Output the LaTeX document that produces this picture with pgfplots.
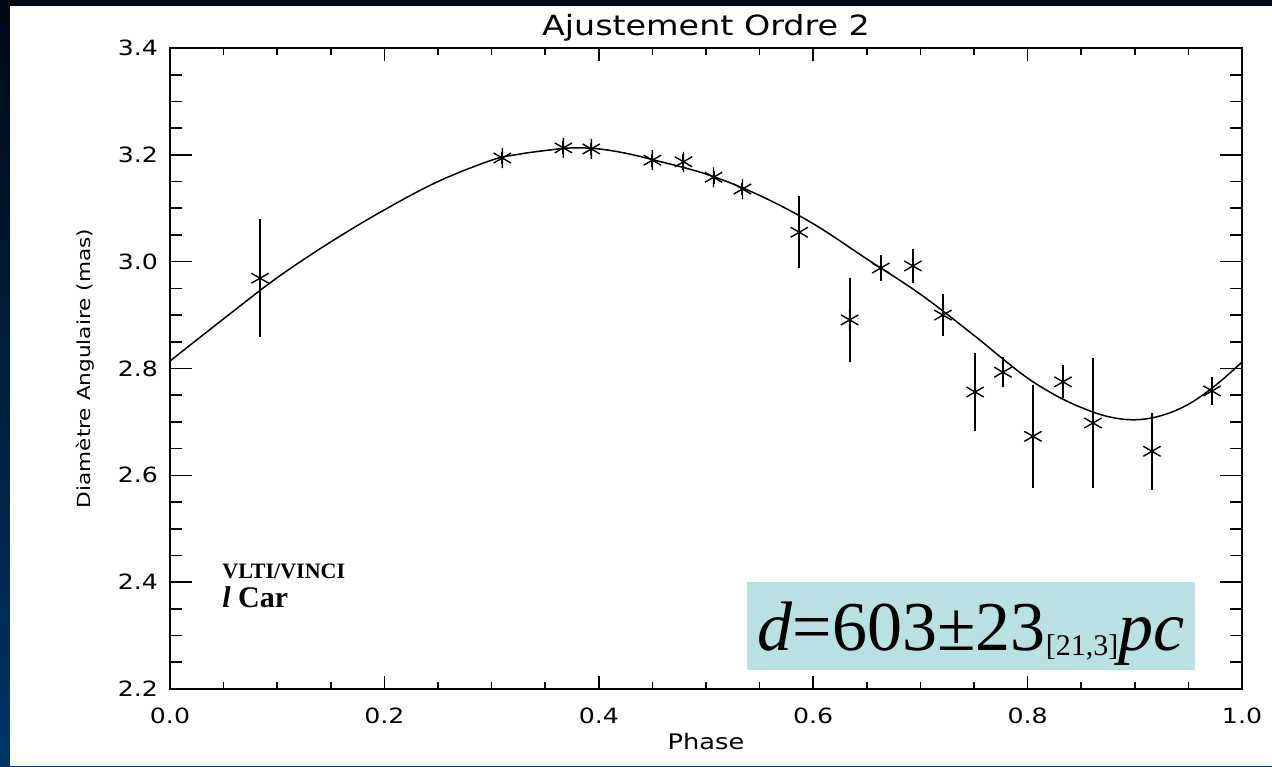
\documentclass[border=0pt]{standalone}
\usepackage{graphicx}
\usepackage{pgfplots}
\usepackage{pgfplotstable}
\pgfplotsset{compat=1.18}
\usepackage{fontspec}
\setmainfont{DejaVu Sans}
\newfontfamily\tnr{Liberation Serif}
\definecolor{bgtop}{RGB}{0,10,22}
\definecolor{bgbot}{RGB}{0,52,104}
\definecolor{boxcol}{RGB}{185,224,227}
\newcommand\idlfont{\fontsize{10.5}{12}\selectfont}

\pgfplotstableread{
x y e
0.084 2.969 0.110
0.310 3.194 0.012
0.367 3.213 0.012
0.393 3.211 0.012
0.450 3.190 0.012
0.479 3.187 0.015
0.507 3.158 0.012
0.534 3.136 0.012
0.587 3.055 0.067
0.634 2.891 0.079
0.663 2.988 0.025
0.693 2.992 0.032
0.721 2.900 0.040
0.751 2.756 0.073
0.777 2.793 0.028
0.805 2.673 0.096
0.833 2.775 0.031
0.861 2.698 0.122
0.916 2.645 0.072
0.972 2.758 0.026
}\obs

\pgfplotstableread{
x y
0.000 2.814
0.050 2.893
0.100 2.970
0.150 3.037
0.200 3.097
0.250 3.150
0.300 3.190
0.325 3.201
0.350 3.208
0.375 3.213
0.400 3.211
0.425 3.203
0.450 3.191
0.500 3.164
0.550 3.124
0.600 3.071
0.650 3.005
0.700 2.939
0.750 2.862
0.775 2.821
0.800 2.782
0.825 2.751
0.850 2.727
0.875 2.710
0.900 2.704
0.925 2.712
0.950 2.733
0.975 2.768
1.000 2.812
}\fit

\pgfplotsset{idl/.style={
  scale only axis, width=536pt, height=320.5pt,
  at={(85pt,38.5pt)}, anchor=south west,
  xmin=0, xmax=1, ymin=2.2, ymax=3.4,
  tick align=inside,
  axis line style={line width=0.8pt},
  every tick/.style={black, line width=0.8pt},
  ticklabel style={font=\idlfont},
  /pgf/number format/.cd, fixed, fixed zerofill, precision=1, assume math mode=true,
}}

\begin{document}
\begin{tikzpicture}[x=1pt,y=1pt]
\useasboundingbox (0,0) rectangle (636,383);
\shade[top color=bgtop, bottom color=bgbot] (0,0) rectangle (636,383);
\fill[white] (5,0) rectangle (636,380);

% y ticks (longer, as IDL scales them with the axis length)
\begin{axis}[idl,
  xtick=\empty,
  ytick={2.2,2.4,2.6,2.8,3.0,3.2,3.4},
  minor y tick num=3,
  ytick pos=both, yticklabel pos=left,
  major tick length=11pt, minor tick length=6pt,
  yticklabel={\scalebox{1.2}[1]{\pgfmathprintnumber{\tick}}},
  yticklabel style={anchor=east, xshift=-2.5pt},
]
\end{axis}

% x ticks and data
\begin{axis}[idl,
  ytick=\empty,
  xtick={0,0.2,0.4,0.6,0.8,1.0},
  minor x tick num=3,
  xtick pos=both, xticklabel pos=bottom,
  major tick length=6.5pt, minor tick length=3.5pt,
  xticklabel={\scalebox{1.2}[1]{\pgfmathprintnumber{\tick}}},
  xticklabel style={anchor=center, yshift=-13.5pt},
]
\addplot[black, line width=0.75pt, smooth, tension=0.6, no markers] table[x=x, y=y] {\fit};
\addplot[black, only marks, mark=asterisk, mark size=5pt,
  mark options={line width=0.7pt},
  error bars/.cd, y dir=both, y explicit,
  error mark=none, error bar style={line width=1pt}]
  table[x=x, y=y, y error=e] {\obs};
\end{axis}

% titles and labels
\node at (353,369) {\scalebox{1.2}[1]{\fontsize{13.9}{15}\selectfont Ajustement Ordre 2}};
\node at (353,12) {\scalebox{1.2}[1]{\fontsize{10.7}{12}\selectfont Phase}};
\node[rotate=90] at (42.5,198.75) {\scalebox{1.2}[1]{\fontsize{9}{11}\selectfont Diamètre Angulaire (mas)}};

% annotations
\node[anchor=base west, inner sep=0] at (111,94) {\tnr\bfseries\fontsize{11}{12}\selectfont VLTI/VINCI};
\node[anchor=base west, inner sep=0] at (111,79.5) {\tnr\bfseries\fontsize{15}{16}\selectfont\textit{l} Car};
\fill[boxcol] (373.5,48) rectangle (597.5,92);
\node[anchor=base, inner sep=0] at (485.5,58) {\tnr\fontsize{35}{36}\selectfont\textit{d}=603±23\raisebox{-2.5pt}{\fontsize{15}{16}\selectfont[21,3]}\textit{pc}};
\end{tikzpicture}
\end{document}
